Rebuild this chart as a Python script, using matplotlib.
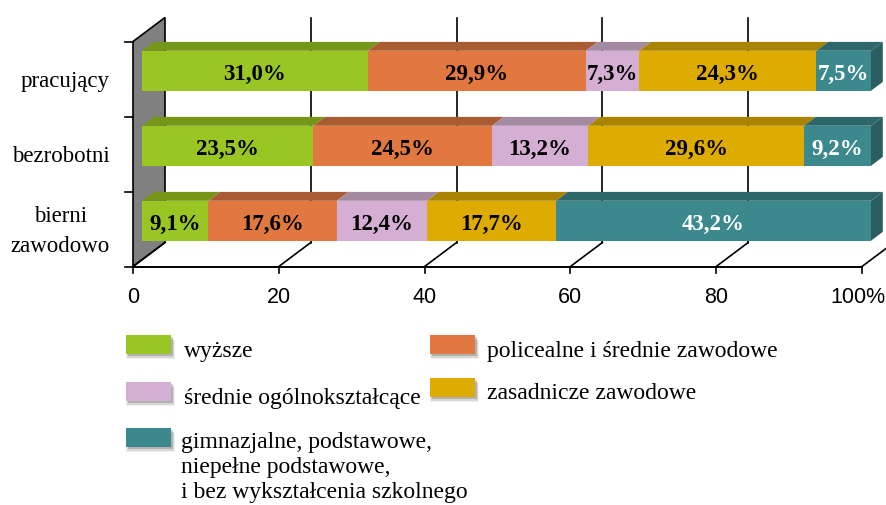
import matplotlib
matplotlib.use("Agg")
import matplotlib.pyplot as plt
from matplotlib.patches import Polygon, Rectangle

# ---------------- data ----------------
categories = ["bierni\nzawodowo", "bezrobotni", "pracujący"]
series_names = [
    "wyższe",
    "policealne i średnie zawodowe",
    "średnie ogólnokształcące",
    "zasadnicze zawodowe",
    "gimnazjalne, podstawowe,\nniepełne podstawowe,\ni bez wykształcenia szkolnego",
]
wyzsze = [9.1, 23.5, 31.0]
policealne = [17.6, 24.5, 29.9]
srednie_ogolne = [12.4, 13.2, 7.3]
zasadnicze = [17.7, 29.6, 24.3]
gimnazjalne = [43.2, 9.2, 7.5]
series_values = [wyzsze, policealne, srednie_ogolne, zasadnicze, gimnazjalne]
x_ticks = [0, 20, 40, 60, 80, 100]
x_tick_labels = ["0", "20", "40", "60", "80", "100%"]

# ---------------- style ----------------
face_colors = ["#9AC623", "#E07840", "#D5AFD3", "#DEAC00", "#3C898D"]
top_colors = ["#76961A", "#A95B31", "#A48AA0", "#AA8400", "#2E6769"]
end_color = "#2A5E61"
text_colors = ["black", "black", "black", "black", "white"]
SERIF = "Liberation Serif"
SANS = ["Liberation Sans", "DejaVu Sans"]

W, H = 886, 505
fig = plt.figure(figsize=(W / 100, H / 100), dpi=100)
ax = fig.add_axes([0, 0, 1, 1])
ax.set_axis_off()

# pixel geometry of pseudo-3D frame
X0PIX, SX = 133.0, 7.29      # front floor: x=0 pixel, px per percent
Y0PIX, SY = 266.5, 75.0      # floor front pixel y, px per category unit
DXPIX, DYPIX = 32.0, 24.0    # depth offset in pixels
DX, DY = DXPIX / SX, DYPIX / SY
ax.set_xlim(-X0PIX / SX, (W - X0PIX) / SX)
ax.set_ylim((Y0PIX - H) / SY, Y0PIX / SY)


def P(x, z, h):
    return (x + z * DX, h + z * DY)


def px(xp, yp):
    return ((xp - X0PIX) / SX, (Y0PIX - yp) / SY)


NCAT = len(categories)
HTOP = NCAT
# left wall
ax.add_patch(Polygon([P(0, 0, 0), P(0, 1, 0), P(0, 1, HTOP), P(0, 0, HTOP)],
                     closed=True, facecolor="#808080", edgecolor="black", lw=1.2, zorder=1))
# back wall gridlines
for t in x_ticks[1:]:
    a, b = P(t, 1, 0), P(t, 1, HTOP)
    ax.plot([a[0], b[0]], [a[1], b[1]], color="black", lw=1.2, zorder=1)
# floor diagonals
for t in x_ticks:
    a, b = P(t, 0, 0), P(t, 1, 0)
    ax.plot([a[0], b[0]], [a[1], b[1]], color="black", lw=1.2, zorder=1)
# floor front line
a, b = P(0, 0, 0), P(100, 0, 0)
ax.plot([a[0], b[0]], [a[1], b[1]], color="black", lw=1.4, zorder=2)
# x ticks and labels
for t, lab in zip(x_ticks, x_tick_labels):
    a = P(t, 0, 0)
    ax.plot([a[0], a[0]], [a[1], a[1] - 6 / SY], color="black", lw=1.2, zorder=2)
    if t == x_ticks[-1]:
        ax.text(px(885, 0)[0], a[1] - 31 / SY, lab, ha="right", va="center",
                fontsize=15.5, family=SANS, zorder=3)
    else:
        ax.text(a[0], a[1] - 31 / SY, lab, ha="center", va="center", fontsize=15.5,
                family=SANS, zorder=3)
# y ticks
for k in range(NCAT + 1):
    a = P(0, 0, k)
    ax.plot([a[0] - 8 / SX, a[0]], [a[1], a[1]], color="black", lw=1.2, zorder=2)

# bars
Z0, Z1 = 0.28, 0.65
HALF = 20 / SY
for i, cat in enumerate(categories):
    c = i + 0.52
    yc = P(0, Z0, c)[1]
    left = 0.0
    for s, vals in enumerate(series_values):
        v = vals[i]
        xl = P(left, Z0, c)[0]
        ax.barh(yc, v, left=xl, height=2 * HALF, color=face_colors[s], edgecolor="none", zorder=5)
        top = [P(left, Z0, c + HALF), P(left + v, Z0, c + HALF),
               P(left + v, Z1, c + HALF), P(left, Z1, c + HALF)]
        ax.add_patch(Polygon(top, closed=True, facecolor=top_colors[s], edgecolor="none", zorder=5))
        ax.text(xl + v / 2, yc - 9.5 / SY, f"{v:.1f}".replace(".", ",") + "%", ha="center",
                va="baseline", fontsize=16.5, fontweight="bold", family=SERIF,
                color=text_colors[s], zorder=7)
        left += v
    end = [P(left, Z0, c - HALF), P(left, Z1, c - HALF), P(left, Z1, c + HALF), P(left, Z0, c + HALF)]
    ax.add_patch(Polygon(end, closed=True, facecolor=end_color, edgecolor="none", zorder=5))
    # category label
    lp = P(0, 0, c)
    ax.text(lp[0] - 23 / SX, lp[1] - 4 / SY, cat, ha="right", va="center", multialignment="center",
            fontsize=16.5, family=SERIF, linespacing=1.5, zorder=3)

# legend (manual, squares with soft shadow)
legend_items = [
    (0, 126, 335, 184, 357),
    (1, 430, 335, 487, 357),
    (2, 126, 382, 184, 404),
    (3, 430, 378, 487, 399),
    (4, 126, 428, 181, 448),
]
SW, SH = 45, 19
LINE_STEP = 25
for s, x_sq, y_sq, x_tx, y_bl in legend_items:
    for k, (al, off, grow) in enumerate([(0.08, 5, 2), (0.14, 3.5, 1), (0.25, 2, 0)]):
        xa, ya = px(x_sq + 2 - grow, y_sq + SH + off)
        ax.add_patch(Rectangle((xa, ya), (SW + 2 * grow) / SX, SH / SY, facecolor="#404040",
                               edgecolor="none", alpha=al, zorder=8))
    xa, ya = px(x_sq, y_sq + SH)
    ax.add_patch(Rectangle((xa, ya), SW / SX, SH / SY, facecolor=face_colors[s],
                           edgecolor="none", zorder=9))
    for j, line in enumerate(series_names[s].split("\n")):
        tx, ty = px(x_tx, y_bl + j * LINE_STEP)
        ax.text(tx, ty, line, ha="left", va="baseline", fontsize=17,
                family=SERIF, zorder=9)

fig.savefig("out.png", dpi=100)
